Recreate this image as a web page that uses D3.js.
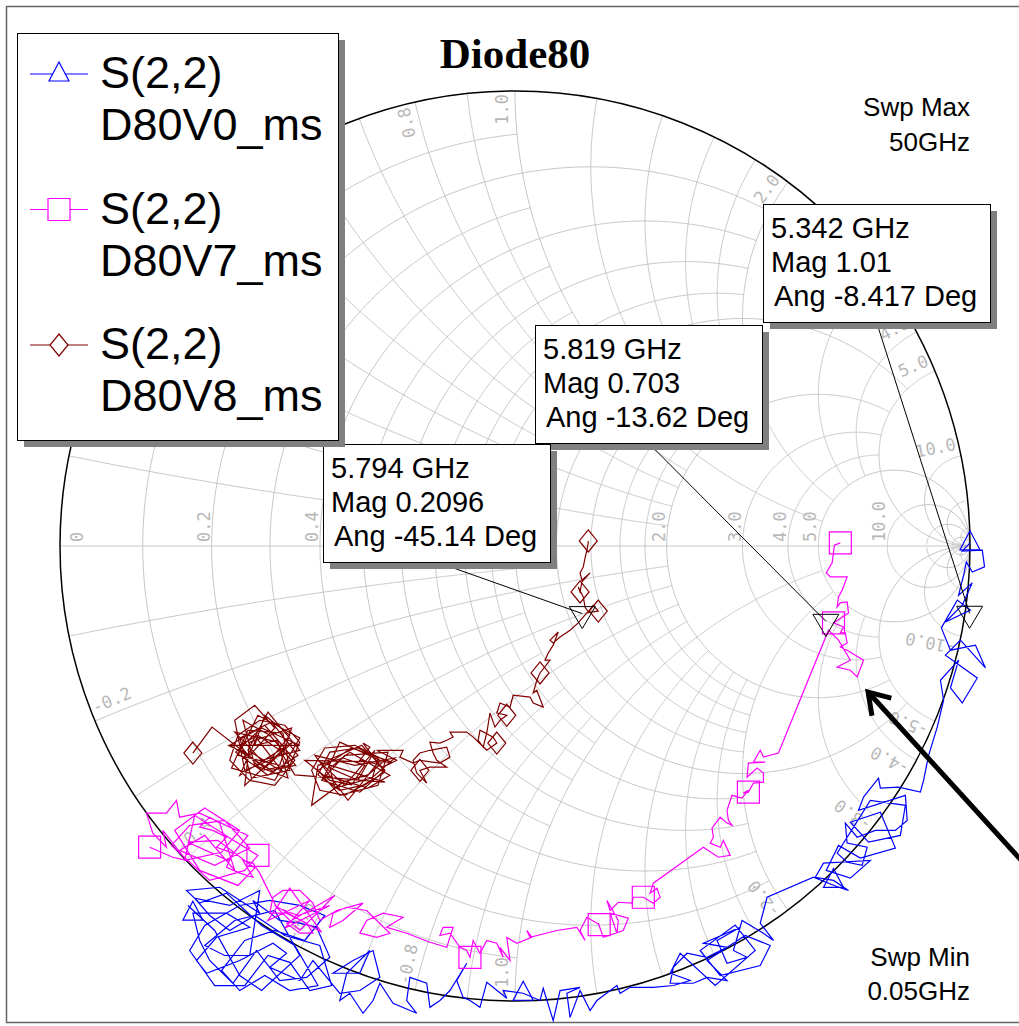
<!DOCTYPE html>
<html>
<head>
<meta charset="utf-8">
<script src="https://cdn.jsdelivr.net/npm/d3@7"></script>
<style>
body { margin: 0; background: #fff; }
svg { display: block; }
</style>
</head>
<body>
<svg id="chart" width="1019" height="1026"></svg>
<script>
var blueTrace = [[1.000,0.007],[0.983,-0.011],[1.027,-0.009],[1.032,-0.046],[1.005,-0.057],[0.992,-0.035],[0.986,-0.064],[0.975,-0.108],[1.005,-0.081],[0.983,-0.130],
[0.946,-0.167],[1.001,-0.141],[0.972,-0.119],[0.937,-0.180],[0.957,-0.229],[1.012,-0.218],[1.034,-0.268],[0.979,-0.207],[0.946,-0.240],[1.016,-0.290],
[0.983,-0.345],[0.957,-0.312],[0.975,-0.251],[0.935,-0.295],[0.942,-0.339],[0.928,-0.398],[0.909,-0.460],[0.898,-0.515],[0.891,-0.541],[0.843,-0.530],
[0.803,-0.532],[0.799,-0.510],[0.766,-0.552],[0.755,-0.581],[0.858,-0.548],[0.862,-0.603],[0.836,-0.625],[0.792,-0.625],[0.752,-0.640],[0.726,-0.609],
[0.730,-0.653],[0.774,-0.662],[0.763,-0.702],[0.730,-0.695],[0.708,-0.675],
[0.781,-0.559],[0.858,-0.570],[0.847,-0.636],[0.777,-0.651],[0.737,-0.607],[0.803,-0.585],[0.836,-0.664],[0.759,-0.686],[0.711,-0.658],[0.684,-0.713],
[0.737,-0.730],[0.781,-0.691],
[0.678,-0.697],[0.660,-0.728],[0.700,-0.735],[0.733,-0.757],[0.711,-0.750],
[0.656,-0.728],[0.554,-0.772],[0.539,-0.829],[0.568,-0.867],[0.546,-0.851],[0.524,-0.838],[0.499,-0.823],[0.480,-0.889],[0.510,-0.904],[0.466,-0.917],
[0.444,-0.867],[0.495,-0.838],[0.414,-0.873],[0.466,-0.882],[0.422,-0.904],[0.378,-0.895],[0.348,-0.926],[0.341,-0.961],[0.392,-0.961],[0.422,-0.948],
[0.466,-0.955],[0.422,-0.911],
[0.506,-0.856],[0.561,-0.878],[0.539,-0.922],[0.451,-0.944],[0.407,-0.889],[0.484,-0.833],[0.528,-0.889],[0.440,-0.966],
[0.363,-0.895],[0.341,-0.939],[0.385,-0.955],[0.348,-0.966],[0.304,-0.970],[0.253,-0.970],[0.231,-0.983],[0.224,-0.966],
[0.180,-0.999],[0.165,-1.021],[0.143,-0.977],[0.121,-1.036],[0.114,-0.983],[0.143,-0.970],[0.099,-0.977],[0.084,-1.043],[0.062,-0.972],[0.055,-0.999],
[0.018,-0.983],[-0.026,-0.977],[-0.018,-0.994],[-0.062,-0.959],[-0.077,-1.014],[-0.099,-0.999],[-0.114,-0.992],[-0.128,-0.955],[-0.106,-0.917],[-0.143,-0.977],
[-0.165,-0.999],[-0.187,-1.014],[-0.194,-0.961],[-0.231,-0.948],[-0.238,-0.999],[-0.216,-1.027],[-0.268,-1.005],[-0.297,-0.961],[-0.312,-0.999],[-0.334,-1.027],
[-0.363,-0.983],[-0.385,-0.999],[-0.370,-0.939],[-0.319,-0.889],[-0.341,-0.939],[-0.400,-0.939],[-0.356,-0.911],[-0.312,-0.889],[-0.297,-0.948],[-0.341,-0.977],
[-0.385,-0.983],[-0.444,-0.911],[-0.473,-0.955],[-0.539,-0.926],[-0.502,-0.895],[-0.532,-0.873],[-0.605,-0.911],[-0.678,-0.939],[-0.700,-0.911],[-0.656,-0.860],
[-0.583,-0.838],[-0.634,-0.807],[-0.708,-0.807],[-0.693,-0.867],[-0.671,-0.911],[-0.620,-0.961],[-0.568,-0.889],[-0.517,-0.955],[-0.458,-0.948],[-0.407,-0.904],
[-0.436,-0.838],[-0.473,-0.829],[-0.517,-0.823],[-0.576,-0.779],[-0.561,-0.807],[-0.649,-0.750],[-0.722,-0.757],[-0.693,-0.785],[-0.634,-0.763],
[-0.557,-0.834],[-0.484,-0.878],[-0.433,-0.966],[-0.495,-0.977],[-0.550,-0.944],[-0.605,-0.977],[-0.645,-0.933],[-0.594,-0.867],[-0.528,-0.845],[-0.462,-0.867],
[-0.418,-0.812],[-0.473,-0.790],[-0.539,-0.779],[-0.605,-0.790],[-0.682,-0.834],[-0.715,-0.889],[-0.660,-0.966],[-0.594,-0.966],[-0.543,-0.900],[-0.495,-0.915],
[-0.451,-0.977],[-0.403,-0.966],[-0.429,-0.878],[-0.506,-0.856],[-0.572,-0.812],[-0.627,-0.845],[-0.671,-0.812],[-0.704,-0.774],[-0.627,-0.790],[-0.561,-0.757],
[-0.583,-0.900],[-0.638,-0.900],[-0.682,-0.878],[-0.616,-0.823],[-0.528,-0.801],[-0.473,-0.900],[-0.557,-0.977],[-0.605,-0.944],[-0.660,-0.845],[-0.719,-0.790]]

var magentaTrace = [[0.715,0.007],[0.702,0.002],[0.697,-0.037],[0.684,-0.059],[0.693,-0.068],[0.730,-0.068],[0.719,-0.097],[0.711,-0.112],[0.708,-0.134],[0.715,-0.125],
[0.730,-0.123],[0.733,-0.147],[0.700,-0.169],[0.722,-0.178],[0.715,-0.191],[0.726,-0.191],[0.730,-0.213],[0.715,-0.222],[0.730,-0.229],[0.766,-0.251],
[0.752,-0.288],[0.737,-0.273],[0.708,-0.266],[0.737,-0.251],[0.711,-0.207],[0.689,-0.185],[0.579,-0.455],[0.546,-0.464],[0.539,-0.449],[0.524,-0.475],
[0.550,-0.475],[0.513,-0.477],[0.510,-0.508],[0.532,-0.488],[0.546,-0.499],[0.546,-0.519],[0.524,-0.521],[0.513,-0.541],[0.502,-0.543],[0.513,-0.537],
[0.499,-0.554],[0.477,-0.548],[0.466,-0.581],[0.469,-0.603],[0.477,-0.614],[0.466,-0.609],[0.451,-0.596],[0.433,-0.620],[0.436,-0.640],[0.429,-0.653],
[0.451,-0.662],[0.458,-0.647],[0.473,-0.680],[0.447,-0.684],[0.414,-0.662],[0.304,-0.741],[0.297,-0.763],[0.312,-0.752],[0.319,-0.772],[0.304,-0.785],
[0.282,-0.772],[0.260,-0.772],[0.257,-0.785],[0.227,-0.783],[0.209,-0.801],[0.202,-0.779],[0.227,-0.823],[0.224,-0.851],[0.209,-0.807],[0.249,-0.818],
[0.238,-0.845],[0.194,-0.860],[0.183,-0.829],[0.185,-0.832],[0.158,-0.816],[0.143,-0.845],[0.154,-0.867],[0.136,-0.838],[0.092,-0.845],[0.033,-0.860],
[0.026,-0.845],[0.037,-0.860],[0.004,-0.873],[-0.018,-0.860],[-0.011,-0.911],[-0.033,-0.882],[-0.026,-0.904],[-0.040,-0.873],[-0.062,-0.867],[-0.077,-0.895],
[-0.092,-0.867],[-0.099,-0.904],[-0.106,-0.889],[-0.121,-0.882],[-0.143,-0.851],[-0.165,-0.856],[-0.158,-0.838],[-0.136,-0.838],[-0.150,-0.882],[-0.187,-0.871],
[-0.238,-0.851],[-0.282,-0.838],[-0.246,-0.816],[-0.290,-0.807],[-0.326,-0.823],[-0.341,-0.851],[-0.304,-0.860],[-0.275,-0.851],[-0.326,-0.801],[-0.370,-0.794],
[-0.400,-0.807],[-0.407,-0.838],[-0.378,-0.823],[-0.334,-0.785],[-0.392,-0.801],[-0.429,-0.823],[-0.444,-0.785],[-0.473,-0.757],[-0.510,-0.757],[-0.532,-0.772],
[-0.539,-0.807],[-0.502,-0.807],[-0.458,-0.829],[-0.444,-0.851],[-0.473,-0.851],[-0.502,-0.829],
[-0.396,-0.768],[-0.473,-0.845],[-0.528,-0.790],[-0.425,-0.849],[-0.495,-0.752],[-0.543,-0.823],[-0.451,-0.779],[-0.506,-0.840],[-0.407,-0.790],[-0.477,-0.812],
[-0.524,-0.794],[-0.561,-0.719],[-0.576,-0.697],[-0.598,-0.691],
[-0.576,-0.728],[-0.605,-0.719],[-0.634,-0.706],[-0.620,-0.675],[-0.656,-0.662],[-0.634,-0.640],[-0.664,-0.625],[-0.693,-0.618],[-0.671,-0.596],[-0.649,-0.609],
[-0.616,-0.713],[-0.682,-0.636],[-0.737,-0.669],[-0.660,-0.702],[-0.583,-0.664],[-0.638,-0.603],[-0.715,-0.614],[-0.755,-0.658],[-0.671,-0.735],[-0.594,-0.713],
[-0.565,-0.680],[-0.627,-0.642],[-0.704,-0.592],[-0.726,-0.691],[-0.645,-0.673],[-0.605,-0.625],[-0.682,-0.576],[-0.748,-0.625],[-0.693,-0.713],[-0.609,-0.746],
[-0.572,-0.708],[-0.653,-0.647],[-0.719,-0.651],[-0.631,-0.691],[-0.587,-0.636],
[-0.693,-0.587],[-0.737,-0.596],[-0.744,-0.559],[-0.766,-0.587],[-0.810,-0.587],[-0.796,-0.631],[-0.766,-0.662],[-0.774,-0.625],[-0.722,-0.691],[-0.752,-0.684],
[-0.803,-0.662]]

var redTrace = [[0.161,0.011],[0.161,0.007],[0.158,-0.009],[0.154,-0.026],[0.150,-0.046],[0.143,-0.059],[0.147,-0.075],[0.165,-0.059],[0.147,-0.079],[0.143,-0.101],
[0.139,-0.090],[0.150,-0.112],[0.154,-0.134],[0.161,-0.145],[0.172,-0.130],[0.183,-0.143],[0.158,-0.147],[0.139,-0.169],[0.121,-0.185],[0.099,-0.200],
[0.084,-0.213],[0.077,-0.207],[0.095,-0.189],[0.084,-0.218],[0.073,-0.235],[0.066,-0.251],[0.077,-0.251],[0.055,-0.279],[0.048,-0.295],[0.040,-0.323],
[0.048,-0.317],[0.062,-0.354],[0.040,-0.345],[0.033,-0.332],[-0.004,-0.328],[-0.011,-0.354],[-0.033,-0.345],[-0.040,-0.367],[-0.018,-0.372],[-0.033,-0.383],
[-0.044,-0.398],[-0.055,-0.367],[-0.062,-0.411],[-0.070,-0.442],[-0.081,-0.427],[-0.077,-0.405],[-0.048,-0.420],[-0.040,-0.433],[-0.062,-0.449],[-0.092,-0.420],
[-0.106,-0.409],[-0.143,-0.409],[-0.136,-0.420],[-0.150,-0.427],[-0.165,-0.433],[-0.187,-0.431],[-0.180,-0.455],[-0.172,-0.471],[-0.150,-0.486],[-0.187,-0.486],
[-0.209,-0.493],[-0.194,-0.521],[-0.216,-0.499],[-0.224,-0.471],[-0.209,-0.455],[-0.187,-0.449],[-0.150,-0.442],[-0.143,-0.464],[-0.165,-0.477],[-0.209,-0.471],
[-0.224,-0.477],[-0.253,-0.464],[-0.246,-0.449],[-0.275,-0.449],[-0.304,-0.449],[-0.260,-0.471],[-0.290,-0.486],[-0.312,-0.477],[-0.341,-0.471],[-0.319,-0.442],
[-0.334,-0.433],[-0.286,-0.497],[-0.330,-0.525],[-0.385,-0.537],[-0.433,-0.503],[-0.407,-0.453],[-0.345,-0.444],[-0.301,-0.466],[-0.315,-0.515],[-0.374,-0.548],
[-0.429,-0.537],[-0.447,-0.493],[-0.418,-0.444],[-0.352,-0.438],[-0.286,-0.471],[-0.323,-0.503],[-0.378,-0.519],[-0.447,-0.570],[-0.433,-0.482],[-0.378,-0.466],
[-0.330,-0.482],[-0.359,-0.525],[-0.407,-0.515],[-0.462,-0.471],
[-0.271,-0.475],[-0.359,-0.444],[-0.433,-0.493],[-0.385,-0.548],[-0.301,-0.526],[-0.279,-0.453],[-0.374,-0.460],[-0.425,-0.515],[-0.341,-0.541],[-0.286,-0.493],
[-0.337,-0.438],[-0.411,-0.471],[-0.396,-0.532],[-0.315,-0.510],[-0.264,-0.466],[-0.352,-0.482],[-0.440,-0.460],[-0.367,-0.559],[-0.297,-0.471],[-0.385,-0.431],
[-0.418,-0.504],[-0.323,-0.532],[-0.275,-0.504],[-0.363,-0.453],[-0.407,-0.488],[-0.345,-0.515],[-0.308,-0.449],[-0.374,-0.526],[-0.429,-0.475],[-0.286,-0.519],
[-0.484,-0.503],[-0.517,-0.449],[-0.565,-0.416],[-0.605,-0.438],[-0.557,-0.493],[-0.495,-0.482],
[-0.473,-0.431],[-0.506,-0.394],[-0.561,-0.383],[-0.609,-0.416],[-0.627,-0.471],[-0.583,-0.515],[-0.528,-0.526],[-0.484,-0.471],[-0.521,-0.427],[-0.572,-0.438],
[-0.550,-0.372],[-0.495,-0.416],[-0.539,-0.471],[-0.594,-0.493],[-0.616,-0.383],[-0.572,-0.350],[-0.528,-0.400],[-0.583,-0.460],[-0.631,-0.438],
[-0.473,-0.438],[-0.557,-0.400],[-0.614,-0.453],[-0.543,-0.504],[-0.477,-0.460],[-0.535,-0.387],[-0.605,-0.422],[-0.579,-0.510],[-0.495,-0.493],[-0.510,-0.411],
[-0.587,-0.405],[-0.623,-0.488],[-0.528,-0.515],[-0.473,-0.422],[-0.565,-0.372],[-0.609,-0.460],[-0.517,-0.482],[-0.491,-0.400],[-0.583,-0.431],[-0.594,-0.526],
[-0.506,-0.444],[-0.550,-0.394],[-0.627,-0.438],[-0.535,-0.493],[-0.482,-0.482],[-0.539,-0.416],[-0.598,-0.383],[-0.572,-0.482],[-0.499,-0.510],[-0.521,-0.431],
[-0.616,-0.409],[-0.557,-0.471],[-0.473,-0.449],[-0.543,-0.365],[-0.587,-0.449],[-0.510,-0.497],[-0.568,-0.422],[-0.605,-0.504],[-0.488,-0.431],[-0.550,-0.488],
[-0.666,-0.398],[-0.708,-0.455]]

// which samples carry a trace symbol (negative counts from the end)
var blueMarkIdx = [0, 59, 110, 152]
var magentaMarkIdx = [0, 12, 37, 60, 73, 91, 160, -1]
var redMarkIdx = [0, 9, 15, 27, 38, 47, 60, -1]

var seriesNames = ['D80V0_ms', 'D80V7_ms', 'D80V8_ms']
var seriesColors = ['#0000ff', '#ff00ff', '#800000']
var seriesShapes = ['triangle', 'square', 'diamond']

// marker readouts
var readFreq = ['5.342 GHz', '5.819 GHz', '5.794 GHz']
var readMag = [1.01, 0.703, 0.2096]
var readAng = [-8.417, -13.62, -45.14]

// smith grid: value and how far the line runs along the other family
var rValues = [0.1,0.2,0.3,0.4,0.5,0.6,0.7,0.8,0.9,1.0,1.2,1.4,1.6,1.8,2.0,3.0,4.0,5.0,10,20,50]
var rLimits = [1,2,1,2,1,2,1,2,1,5,2,2,2,2,5,5,5,Infinity,Infinity,Infinity,Infinity]
var xValues = [0.1,0.2,0.3,0.4,0.5,0.6,0.7,0.8,0.9,1.0,1.2,1.4,1.6,1.8,2.0,3.0,4.0,5.0,10,20,50]
var xLimits = [1,2,1,2,1,2,1,2,1,5,2,2,2,2,5,5,5,Infinity,Infinity,Infinity,Infinity]
var rLabels = [0, 0.2, 0.4, 0.6, 0.8, 1.0, 2.0, 3.0, 4.0, 5.0, 10.0]
var xLabels = [0.2, 0.4, 0.6, 0.8, 1.0, 2.0, 3.0, 4.0, 5.0, 10.0]

var cx = 515, cy = 546, R = 455
var boxPos = [[763, 204], [535, 325], [323, 444]]
var boxW = 227, boxH = 118

var svg = d3.select('#chart')
var xs = d3.scaleLinear().domain([-1, 1]).range([cx - R, cx + R])
var ys = d3.scaleLinear().domain([-1, 1]).range([cy + R, cy - R])
var line = d3.line().x(d => xs(d[0])).y(d => ys(d[1]))

function gamma(r, x) {
	var d = (r + 1) * (r + 1) + x * x
	return [(r * r - 1 + x * x) / d, 2 * x / d]
}

function resistancePts(r, lim) {
	var pts = [], n = 500
	for (var i = 0; i <= n; i++) {
		var t = lim === Infinity ? Math.tan(-Math.PI / 2 + 1e-5 + (Math.PI - 2e-5) * i / n) : -lim + 2 * lim * i / n
		pts.push(gamma(r, t))
	}
	return pts
}

function reactancePts(x, lim) {
	var pts = [], n = 400
	for (var i = 0; i <= n; i++) {
		var s = lim === Infinity ? Math.tan((Math.PI / 2 - 1e-5) * i / n) : lim * i / n
		pts.push(gamma(s, x))
	}
	return pts
}

// frame
svg.append('path')
	.attr('d', 'M1030,6.5 H6.5 V1022.5 H1030')
	.attr('fill', 'none').attr('stroke', '#666').attr('stroke-width', 1.5)

// grid
var grid = svg.append('g').attr('fill', 'none').attr('stroke', '#c6c6c6').attr('stroke-width', 1)
rValues.forEach((r, i) => grid.append('path').attr('d', line(resistancePts(r, rLimits[i]))))
xValues.forEach((x, i) => {
	grid.append('path').attr('d', line(reactancePts(x, xLimits[i])))
	grid.append('path').attr('d', line(reactancePts(-x, xLimits[i])))
})
grid.append('line').attr('x1', xs(-1)).attr('x2', xs(1)).attr('y1', ys(0)).attr('y2', ys(0))

var fmt = v => v == 0 ? '0' : v.toFixed(1)
var lab = svg.append('g')
	.style('font-family', '"DejaVu Sans Mono", monospace')
	.style('font-size', '17px')
	.attr('fill', '#b8b8b8')

rLabels.forEach(v => {
	var px = v == 0 ? xs(-1) + 23 : xs((v - 1) / (v + 1)) - 2
	lab.append('text')
		.attr('transform', 'translate(' + px + ',' + (ys(0) - 4) + ') rotate(-90)')
		.text(fmt(v))
})

xLabels.concat(xLabels.map(v => -v)).forEach(v => {
	var g = gamma(0, v), th = Math.atan2(g[1], g[0])
	var P = [xs(g[0]), ys(g[1])]
	var u = [Math.cos(th), -Math.sin(th)]
	var perp = v > 0 ? [-Math.sin(th), -Math.cos(th)] : [Math.sin(th), Math.cos(th)]
	var txt = fmt(v)
	var half = txt.length * 10.2 / 2 + 3
	var c = [P[0] - u[0] * half + perp[0] * 13, P[1] - u[1] * half + perp[1] * 13]
	var rot = -th * 180 / Math.PI + (v > 0 ? 0 : 180)
	lab.append('text')
		.attr('transform', 'translate(' + c[0] + ',' + c[1] + ') rotate(' + rot + ')')
		.attr('text-anchor', 'middle')
		.attr('dominant-baseline', 'central')
		.text(txt)
})

// outer circle
svg.append('circle').attr('cx', xs(0)).attr('cy', ys(0)).attr('r', xs(1) - xs(0))
	.attr('fill', 'none').attr('stroke', '#000').attr('stroke-width', 1.5)

function shape(kind, px, py) {
	if (kind == 'triangle') return 'M' + px + ',' + (py - 12) + 'L' + (px + 10) + ',' + (py + 7) + 'L' + (px - 10) + ',' + (py + 7) + 'Z'
	if (kind == 'square') return 'M' + (px - 11) + ',' + (py - 11) + 'h22v22h-22Z'
	return 'M' + px + ',' + (py - 11) + 'L' + (px + 9) + ',' + py + 'L' + px + ',' + (py + 11) + 'L' + (px - 9) + ',' + py + 'Z'
}

// traces
var traces = [blueTrace, magentaTrace, redTrace]
var markIdx = [blueMarkIdx, magentaMarkIdx, redMarkIdx]
traces.forEach((tr, k) => {
	svg.append('path').attr('d', line(tr))
		.attr('fill', 'none').attr('stroke', seriesColors[k]).attr('stroke-width', 1.2)
	svg.append('g').selectAll('path')
		.data(markIdx[k].map(i => tr[i < 0 ? tr.length + i : i]))
		.enter().append('path')
			.attr('d', d => shape(seriesShapes[k], xs(d[0]), ys(d[1])))
			.attr('fill', 'none').attr('stroke', seriesColors[k]).attr('stroke-width', 1.2)
})

// marker readouts
readFreq.forEach((f, i) => {
	var a = readAng[i] * Math.PI / 180
	var mx = xs(readMag[i] * Math.cos(a)), my = ys(readMag[i] * Math.sin(a))
	var bx = boxPos[i][0], by = boxPos[i][1]
	svg.append('line').attr('x1', bx + boxW / 2).attr('y1', by + boxH).attr('x2', mx).attr('y2', my)
		.attr('stroke', '#000').attr('stroke-width', 1)
	svg.append('path')
		.attr('d', 'M' + (mx - 13) + ',' + (my - 7) + 'L' + (mx + 13) + ',' + (my - 7) + 'L' + mx + ',' + (my + 15) + 'Z')
		.attr('fill', 'none').attr('stroke', '#000').attr('stroke-width', 1)
})

function shadowBox(x, y, w, h) {
	svg.append('rect').attr('x', x + 7).attr('y', y + 7).attr('width', w).attr('height', h).attr('fill', '#808080')
	svg.append('rect').attr('x', x + 0.5).attr('y', y + 0.5).attr('width', w).attr('height', h)
		.attr('fill', '#fff').attr('stroke', '#000').attr('stroke-width', 1)
}

readFreq.forEach((f, i) => {
	var bx = boxPos[i][0], by = boxPos[i][1]
	shadowBox(bx, by, boxW, boxH)
	var t = svg.append('g').style('font-family', '"Liberation Sans", Arial, sans-serif').style('font-size', '29px').attr('fill', '#000')
	t.append('text').attr('x', bx + 8).attr('y', by + 34).text(f)
	t.append('text').attr('x', bx + 8).attr('y', by + 68).text('Mag ' + readMag[i])
	t.append('text').attr('x', bx + 11).attr('y', by + 102).text('Ang ' + readAng[i] + ' Deg')
})

// legend
shadowBox(17, 33, 321, 407)
var leg = svg.append('g').style('font-family', '"Liberation Sans", Arial, sans-serif').style('font-size', '45px')
seriesNames.forEach((n, i) => {
	var ly = 74 + 135.5 * i
	leg.append('line').attr('x1', 30).attr('x2', 88).attr('y1', ly).attr('y2', ly)
		.attr('stroke', seriesColors[i]).attr('stroke-width', 1.2)
	leg.append('path').attr('d', shape(seriesShapes[i], 59, ly))
		.attr('fill', '#fff').attr('stroke', seriesColors[i]).attr('stroke-width', 1.2)
	leg.append('text').attr('x', 100).attr('y', ly + 14).text('S(2,2)')
	leg.append('text').attr('x', 100).attr('y', ly + 66).text(n)
})

// title and sweep notes
svg.append('text').attr('x', cx).attr('y', 68).attr('text-anchor', 'middle')
	.style('font-family', '"Liberation Serif", "Times New Roman", serif').style('font-weight', 'bold').style('font-size', '43px')
	.text('Diode80')

var notes = svg.append('g').style('font-family', '"Liberation Sans", Arial, sans-serif').style('font-size', '26px').attr('text-anchor', 'end')
notes.append('text').attr('x', 970).attr('y', 116).text('Swp Max')
notes.append('text').attr('x', 970).attr('y', 151).text('50GHz')
notes.append('text').attr('x', 970).attr('y', 966).text('Swp Min')
notes.append('text').attr('x', 970).attr('y', 1000).text('0.05GHz')

// pointer arrow
var tip = [xs(0.776), ys(-0.321)], tail = [xs(1.13), ys(-0.71)]
var ang = Math.atan2(tail[1] - tip[1], tail[0] - tip[0])
var arm = 24, spread = 33 * Math.PI / 180
svg.append('line').attr('x1', tip[0]).attr('y1', tip[1]).attr('x2', tail[0]).attr('y2', tail[1])
	.attr('stroke', '#000').attr('stroke-width', 5)
svg.append('path')
	.attr('d', 'M' + (tip[0] + arm * Math.cos(ang - spread)) + ',' + (tip[1] + arm * Math.sin(ang - spread)) +
		'L' + tip[0] + ',' + tip[1] +
		'L' + (tip[0] + arm * Math.cos(ang + spread)) + ',' + (tip[1] + arm * Math.sin(ang + spread)))
	.attr('fill', 'none').attr('stroke', '#000').attr('stroke-width', 5).attr('stroke-linejoin', 'miter')
</script>
</body>
</html>
